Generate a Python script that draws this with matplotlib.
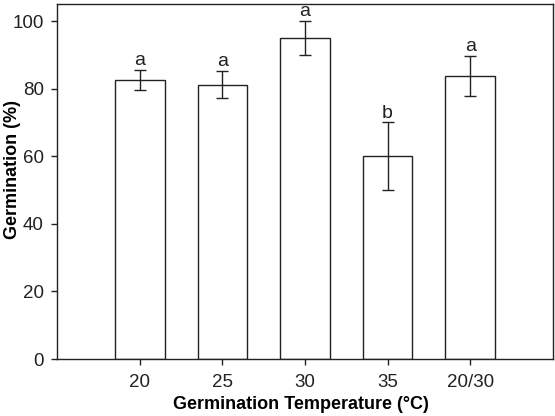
import matplotlib
matplotlib.use("Agg")
import matplotlib.pyplot as plt

temps = ['20', '25', '30', '35', '20/30']
germ = [82.5, 81.2, 95.0, 60.0, 83.8]
err = [3.0, 4.0, 5.0, 10.0, 6.0]
letters = ['a', 'a', 'a', 'b', 'a']

plt.rcParams['font.family'] = ['Liberation Sans', 'DejaVu Sans']

fig = plt.figure(figsize=(5.55, 4.16), dpi=100)
ax = fig.add_axes([0.103, 0.137, 0.893, 0.853])

pos = list(range(1, len(temps) + 1))
ax.bar(pos, germ, width=0.6, color='white', edgecolor='#222222', linewidth=1.0, zorder=2)
ax.errorbar(pos, germ, yerr=err, fmt='none', ecolor='#222222', elinewidth=1.0,
            capsize=4.5, capthick=1.0, zorder=3)

# significance letters above the error bars
for x, m, e, lab in zip(pos, germ, err, letters):
    ax.annotate(lab, (x, m + e), xytext=(0, 3.5), textcoords='offset points',
                ha='center', va='baseline', fontsize=14, color='#222222')

ax.set_xlim(0, 6)
ax.set_ylim(0, 105)
ax.set_xticks(pos)
ax.set_xticklabels(temps)
ax.set_yticks([0, 20, 40, 60, 80, 100])
ax.tick_params(axis='both', labelsize=13.5, length=4.5, width=1.0, colors='#222222', direction='out')
ax.tick_params(axis='x', pad=6)
ax.tick_params(axis='y', pad=5)

for s in ax.spines.values():
    s.set_linewidth(1.0)
    s.set_color('#222222')

ax.set_xlabel('Germination Temperature (°C)', fontsize=13, fontweight='bold')
ax.set_ylabel('Germination (%)', fontsize=13, fontweight='bold')
ax.xaxis.set_label_coords(0.492, -0.103)
ax.yaxis.set_label_coords(-0.072, 0.535)

fig.savefig('out.png', dpi=100)
